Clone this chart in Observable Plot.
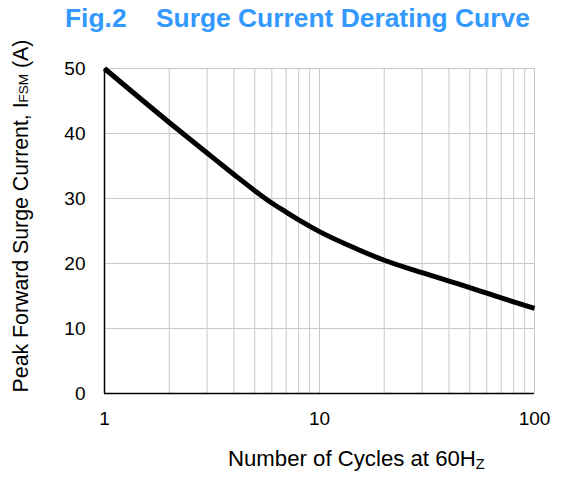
<!DOCTYPE html>
<html><head><meta charset="utf-8">
<script src="https://cdn.jsdelivr.net/npm/d3@7"></script>
<script src="https://cdn.jsdelivr.net/npm/@observablehq/plot@0.6"></script>
<style>body{margin:0;background:#fff;font-family:Arial,"Liberation Sans",sans-serif}</style>
</head><body><div id="chart"></div>
<script>
const cycles = [1, 2, 3, 4, 5, 6, 7, 8, 10, 15, 20, 30, 40, 50, 70, 100];
const current = [50, 41.7, 37.0, 33.7, 31.2, 29.3, 27.9, 26.7, 24.9, 22.2, 20.5, 18.6, 17.3, 16.3, 14.7, 13.1];
const xTicks = [1, 10, 100];
const yTicks = [0, 10, 20, 30, 40, 50];
const xGrid = [2, 3, 4, 5, 6, 7, 8, 9, 10, 20, 30, 40, 50, 60, 70, 80, 90, 100];
const yGrid = [10, 20, 30, 40, 50];
const titleText = "Fig.2    Surge Current Derating Curve";

const data = cycles.map((c, i) => ({cycles: c, current: current[i]}));

const W = 561, H = 477;
const chart = Plot.plot({
  width: W, height: H,
  marginTop: 68, marginBottom: 84, marginLeft: 104, marginRight: 27,
  style: {fontFamily: "Arial, 'Liberation Sans', sans-serif", fontSize: "19px", background: "#fff", color: "#000"},
  x: {type: "log", domain: [1, 100]},
  y: {domain: [0, 50]},
  marks: [
    Plot.ruleX(xGrid, {stroke: "#c8c8c8", strokeWidth: 1}),
    Plot.ruleY(yGrid, {stroke: "#c8c8c8", strokeWidth: 1}),
    Plot.ruleX([1], {stroke: "#000", strokeWidth: 1.5}),
    Plot.ruleY([0], {stroke: "#000", strokeWidth: 1.5}),
    Plot.axisX({ticks: xTicks, tickSize: 0, tickPadding: 18, tickFormat: d => String(d), label: null, fontSize: 19}),
    Plot.axisY({ticks: yTicks, tickSize: 0, tickPadding: 19, tickFormat: d => String(d), label: null, fontSize: 19}),
    Plot.line(data, {x: "cycles", y: "current", stroke: "#000", strokeWidth: 5, curve: "monotone-x", strokeLinecap: "butt"})
  ]
});

const svg = d3.select(chart);
svg.append("text")
  .attr("x", 65).attr("y", 27)
  .attr("text-anchor", "start")
  .attr("fill", "#3399ff")
  .attr("font-size", 26.4).attr("font-weight", "bold")
  .attr("xml:space", "preserve")
  .style("white-space", "pre")
  .text(titleText);

const yl = svg.append("text")
  .attr("transform", "translate(28,216) rotate(-90)")
  .attr("text-anchor", "middle")
  .attr("font-size", 21.3).attr("fill", "#000");
yl.append("tspan").text("Peak Forward Surge Current, I");
yl.append("tspan").attr("font-size", 13.5).text("FSM");
yl.append("tspan").text(" (A)");

const xl = svg.append("text")
  .attr("x", 228).attr("y", 466)
  .attr("text-anchor", "start")
  .attr("font-size", 22.2).attr("fill", "#000");
xl.append("tspan").text("Number of Cycles at 60H");
xl.append("tspan").attr("font-size", 14.5).attr("dy", 3).text("Z");

document.getElementById("chart").appendChild(chart);
</script>
</body></html>
